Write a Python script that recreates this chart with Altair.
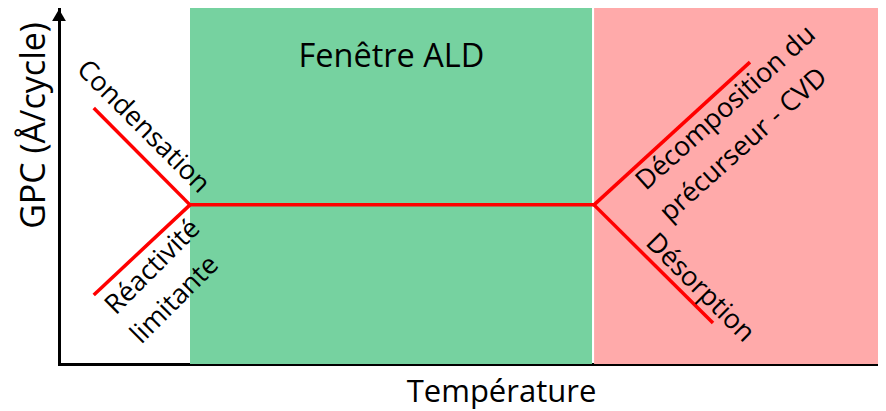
import altair as alt
import pandas as pd

# Temperature axis range (arbitrary units) and GPC range (arbitrary units)
x_domain = [0, 99.03]
y_domain = [0, 100]

# Regions (temperature)
region_names = ["Fenêtre ALD", "Décomposition / désorption"]
region_start = [15.84, 64.7]
region_end = [64.45, 99.03]
region_colors = ["#76D2A0", "#FFAAAA"]

# GPC curve segments (temperature, GPC)
seg_names = ["Condensation", "Réactivité limitante", "Fenêtre ALD", "Décomposition", "Désorption"]
seg_x1 = [4.2, 4.2, 15.84, 64.69, 64.69]
seg_y1 = [71.9, 19.4, 44.7, 44.7, 44.7]
seg_x2 = [15.84, 15.84, 64.69, 83.55, 79.08]
seg_y2 = [44.7, 44.7, 44.7, 84.8, 11.5]

# Annotation labels
label_text = ["Condensation", "Réactivité", "limitante", "Décomposition du", "précurseur - CVD", "Désorption"]
label_x = [10.16, 11.37, 14.03, 80.65, 82.8, 77.5]
label_y = [66.6, 27.2, 18.0, 71.9, 61.5, 21.3]
label_angle = [45, 315, 315, 318, 318, 45]

title_text = ["Fenêtre ALD"]
title_x = [40.2]
title_y = [86.2]

FONT = "Open Sans"

xs = alt.Scale(domain=x_domain, nice=False, zero=False)
ys = alt.Scale(domain=y_domain, nice=False, zero=False)

x_axis = alt.Axis(
    title="Température", labels=False, ticks=False, grid=False,
    domainColor="black", domainWidth=3, domainCap="square",
    titleFont=FONT, titleFontSize=31, titleFontWeight="normal", titleColor="black",
    titleX=442, titleY=37, titleBaseline="alphabetic", titleAlign="center")
y_axis = alt.Axis(
    title="GPC (Å/cycle)", labels=False, ticks=False, grid=False,
    domainColor="black", domainWidth=3, domainCap="square",
    titleFont=FONT, titleFontSize=34, titleFontWeight="normal", titleColor="black",
    titleAngle=270, titleX=-15, titleY=117, titleBaseline="alphabetic", titleAlign="center")


def X():
    return alt.X("x:Q", scale=xs, axis=x_axis)


def Y():
    return alt.Y("y:Q", scale=ys, axis=y_axis)


regions = pd.DataFrame({"name": region_names, "x": region_start, "x2": region_end,
                        "y": [y_domain[0]] * 2, "y2": [y_domain[1]] * 2, "color": region_colors})
segs = pd.DataFrame({"name": seg_names, "x": seg_x1, "y": seg_y1, "x2": seg_x2, "y2": seg_y2})
labels = pd.DataFrame({"text": label_text, "x": label_x, "y": label_y, "angle": label_angle})
titles = pd.DataFrame({"text": title_text, "x": title_x, "y": title_y})
arrow = pd.DataFrame({"x": [0.0], "y": [98.0]})

rect_layer = alt.Chart(regions).mark_rect().encode(
    x=X(), x2="x2:Q", y=Y(), y2="y2:Q",
    color=alt.Color("color:N", scale=None, legend=None),
)

seg_layer = alt.Chart(segs).mark_rule(color="#FF0000", strokeWidth=3.5, strokeCap="butt").encode(
    x=X(), x2="x2:Q", y=Y(), y2="y2:Q",
)

label_layer = alt.Chart(labels).mark_text(
    font=FONT, fontSize=27, color="black", align="center", baseline="middle"
).encode(
    x=X(), y=Y(), text="text:N",
    angle=alt.Angle("angle:Q", scale=None),
)

title_layer = alt.Chart(titles).mark_text(
    font=FONT, fontSize=32.5, color="black", align="center", baseline="middle"
).encode(x=X(), y=Y(), text="text:N")

arrow_layer = alt.Chart(arrow).mark_point(
    shape="triangle-up", filled=True, color="black", opacity=1, size=190, strokeWidth=0
).encode(x=X(), y=Y())

chart = alt.layer(rect_layer, seg_layer, label_layer, title_layer, arrow_layer).properties(
    width=819, height=356,
    padding={"left": 51, "top": 0, "right": 0, "bottom": 47},
    autosize=alt.AutoSizeParams(type="none"),
    background="white",
).configure_view(stroke=None)

chart.save("out.html", embed_options={"renderer": "svg", "actions": False})
